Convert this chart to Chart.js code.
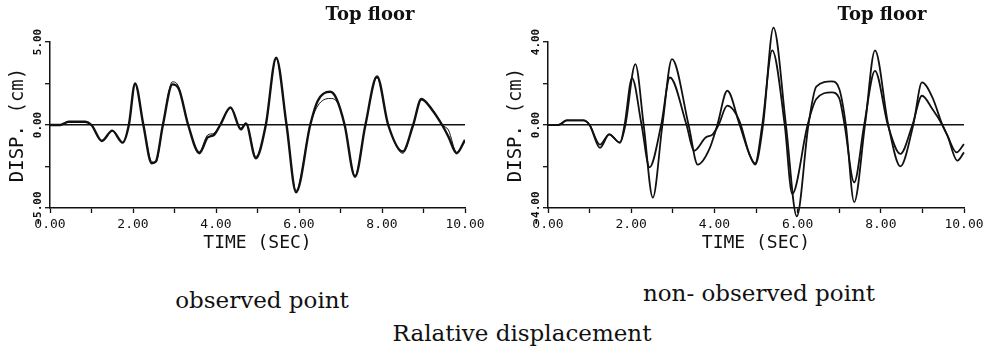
<!DOCTYPE html>
<html lang="en">
<head>
    <meta charset="UTF-8">
    <title>Ralative displacement</title>
    <style>
        body {
            margin: 0;
            background: #fff;
            width: 991px;
            height: 360px;
            position: relative;
            overflow: hidden;
        }
        canvas {
            position: absolute;
            top: 0;
        }
        .caption {
            position: absolute;
            width: 400px;
            text-align: center;
            font-family: "DejaVu Serif", serif;
            color: #111;
            white-space: nowrap;
        }
        .floor {
            font-size: 18px;
            font-weight: bold;
            line-height: 18px;
        }
        .sub {
            font-size: 23px;
            line-height: 23px;
        }
    </style>
</head>
<body>
    <canvas id="leftChart" width="491" height="260" style="left:0"></canvas>
    <canvas id="rightChart" width="493" height="260" style="left:498px"></canvas>

    <div class="caption floor" style="left:170px; top:5px">Top floor</div>
    <div class="caption floor" style="left:682px; top:5px">Top floor</div>
    <div class="caption sub" style="left:62px; top:289px">observed point</div>
    <div class="caption sub" style="left:559px; top:282px">non- observed point</div>
    <div class="caption sub" style="left:322px; top:322px">Ralative displacement</div>

    <script src="https://cdn.jsdelivr.net/npm/chart.js@4.4.0/dist/chart.umd.js"></script>
    <script>
        // left panel: observed point (two nearly identical curves)
        const leftTime  = [0, 0.25, 0.45, 0.85, 1.0, 1.25, 1.5, 1.75, 1.9, 2.05, 2.25, 2.45, 2.55, 2.72, 2.95, 3.1, 3.33, 3.6, 3.8, 3.95, 4.1, 4.35, 4.6, 4.72, 4.96, 5.2, 5.45, 5.7, 5.93, 6.27, 6.45, 6.75, 6.9, 7.1, 7.35, 7.6, 7.88, 8.15, 8.5, 8.75, 8.95, 9.2, 9.45, 9.6, 9.8, 10];
        const leftThick = [0, 0, 0.2, 0.2, 0, -0.96, -0.34, -1.06, 0, 2.5, 0, -2.3, -2.2, 0, 2.45, 2.2, 0, -1.7, -0.75, -0.6, 0, 1.06, -0.26, 0.1, -2.0, 0, 4.05, 0, -4.05, 0, 1.45, 2.0, 1.6, 0, -3.12, 0, 2.92, 0, -1.6, 0, 1.57, 0.94, 0, -0.7, -1.7, -0.9];
        const leftThin  = [0, 0, 0.2, 0.2, 0, -0.96, -0.34, -1.06, 0, 2.45, 0, -2.2, -2.25, 0, 2.6, 2.3, 0, -1.6, -0.6, -0.5, 0, 1.0, -0.2, 0.1, -1.9, 0, 4.0, 0, -3.95, 0, 1.15, 1.6, 1.45, 0, -3.05, 0, 2.85, 0, -1.7, 0, 1.5, 1.0, 0, -0.3, -1.65, -0.9];

        // right panel: non-observed point
        const rightTimeA = [0, 0.25, 0.45, 0.85, 1.0, 1.25, 1.47, 1.73, 1.86, 2.1, 2.3, 2.52, 2.75, 2.98, 3.38, 3.6, 3.87, 4.07, 4.31, 4.6, 4.84, 4.98, 5.17, 5.42, 5.72, 5.98, 6.26, 6.45, 6.82, 7.0, 7.16, 7.36, 7.62, 7.86, 8.18, 8.47, 8.78, 8.99, 9.24, 9.48, 9.6, 9.84, 10];
        const rightA     = [0, 0, 0.22, 0.22, 0, -1.1, -0.45, -0.85, 0, 2.93, 0, -3.5, 0, 3.17, 0, -1.91, -1.2, 0, 1.65, 0.05, -1.4, -1.91, 0, 4.69, 0, -4.4, 0, 1.85, 2.1, 1.75, 0, -3.72, 0, 3.6, 0, -1.99, 0, 2.05, 1.33, 0, -0.5, -1.72, -1.32];
        const rightTimeB = [0, 0.25, 0.45, 0.85, 1.0, 1.25, 1.47, 1.73, 1.84, 2.02, 2.25, 2.44, 2.72, 2.93, 3.33, 3.51, 3.79, 3.96, 4.1, 4.31, 4.6, 4.84, 4.98, 5.15, 5.39, 5.69, 5.87, 6.24, 6.45, 6.82, 7.0, 7.13, 7.36, 7.6, 7.86, 8.17, 8.47, 8.76, 8.99, 9.24, 9.48, 9.6, 9.82, 10];
        const rightB     = [0, 0, 0.22, 0.22, 0, -0.95, -0.45, -0.85, 0, 2.26, 0, -2.04, 0, 2.29, 0, -1.24, -0.6, -0.45, 0, 0.93, 0.2, -1.4, -1.85, 0, 3.6, 0, -3.32, 0, 1.25, 1.57, 1.3, 0, -2.76, 0, 2.61, 0, -1.39, 0, 1.41, 0.77, 0, -0.5, -1.32, -0.92];

        // axes
        const timeMax = 10;
        const timeLabelEvery = 2;
        const leftYMax = 5;
        const rightYMax = 4;

        const INK = '#111';
        const MONO = 'DejaVu Sans Mono';

        function points(xs, ys) {
            return xs.map((x, i) => ({ x: x, y: ys[i] }));
        }

        function lineSet(xs, ys, width, clip) {
            return {
                data: points(xs, ys),
                borderColor: INK,
                borderWidth: width,
                pointRadius: 0,
                fill: false,
                cubicInterpolationMode: 'monotone',
                clip: clip
            };
        }

        function makeChart(id, datasets, yMax, rightPad) {
            return new Chart(document.getElementById(id), {
                type: 'line',
                data: { datasets },
                options: {
                    responsive: false,
                    animation: false,
                    layout: { padding: { top: 42, right: rightPad, left: 0, bottom: 0 } },
                    plugins: { legend: { display: false }, tooltip: { enabled: false } },
                    scales: {
                        x: {
                            type: 'linear',
                            min: 0,
                            max: timeMax,
                            afterFit: s => { s.height = 52; },
                            ticks: {
                                stepSize: 1,
                                autoSkip: false,
                                maxRotation: 0,
                                padding: 4,
                                color: INK,
                                font: { family: MONO, size: 13 },
                                callback: v => v % timeLabelEvery === 0 ? v.toFixed(2) : ''
                            },
                            grid: { drawOnChartArea: false, tickLength: 5, tickColor: INK, tickWidth: 1.3 },
                            border: { color: INK, width: 1.5 },
                            title: {
                                display: true,
                                text: 'TIME (SEC)',
                                color: INK,
                                font: { family: MONO, size: 18 },
                                padding: { top: 0, bottom: 6 }
                            }
                        },
                        y: {
                            min: -yMax,
                            max: yMax,
                            afterFit: s => { s.width = 50; },
                            ticks: {
                                stepSize: yMax / 2,
                                minRotation: 90,
                                maxRotation: 90,
                                crossAlign: 'center',
                                padding: -10,
                                color: INK,
                                font: { family: MONO, size: 11, weight: 'bold' },
                                callback: v => v % yMax === 0 ? v.toFixed(2) : ''
                            },
                            grid: {
                                color: c => (c.tick && c.tick.value === 0) ? INK : 'rgba(0,0,0,0)',
                                lineWidth: 1.4,
                                tickLength: 5,
                                tickColor: INK,
                                tickWidth: 1.3
                            },
                            border: { color: INK, width: 1.5 },
                            title: {
                                display: true,
                                text: 'DISP. (cm)',
                                color: INK,
                                font: { family: MONO, size: 19 },
                                padding: { top: 7, bottom: 0 }
                            }
                        }
                    }
                }
            });
        }

        makeChart('leftChart', [
            lineSet(leftTime, leftThin, 1, true),
            lineSet(leftTime, leftThick, 2.4, true)
        ], leftYMax, 26);

        makeChart('rightChart', [
            lineSet(rightTimeA, rightA, 1.8, false),
            lineSet(rightTimeB, rightB, 1.8, false)
        ], rightYMax, 27);
    </script>
</body>
</html>
